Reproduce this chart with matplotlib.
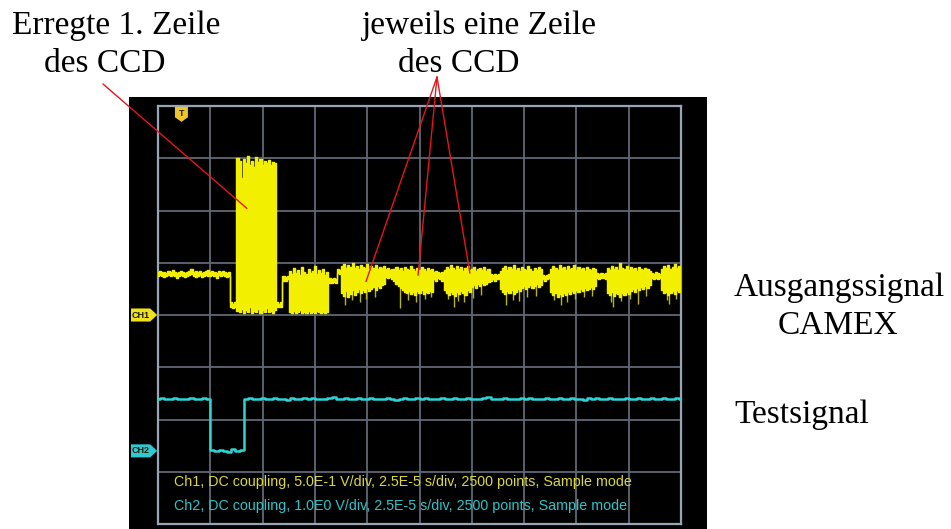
import numpy as np
import matplotlib
matplotlib.use("Agg")
import matplotlib.pyplot as plt
from matplotlib.patches import Rectangle, Polygon
from matplotlib import transforms

W, H = 951, 529

# Scope settings
t_div_us = 25.0          # 2.5E-5 s/div
ch1_v_per_div = 0.5      # 5.0E-1 V/div
ch2_v_per_div = 1.0      # 1.0E0 V/div
ch1_offset_div = 0.0
ch2_offset_div = -2.6
trigger_us = 11.2
ch1_dt_us = 1.0
ch2_dt_us = 2.0

# CH1 (CAMEX output), upper / lower envelope per 1 us, in volts
ch1_hi = [
    # idle level
    0.41, 0.42, 0.41, 0.41, 0.40, 0.42, 0.41, 0.43, 0.41, 0.40,
    0.41, 0.42, 0.41, 0.40, 0.41, 0.42, 0.44, 0.41, 0.42, 0.41,
    0.42, 0.40, 0.41, 0.42, 0.43, 0.41, 0.42, 0.41, 0.40, 0.42,
    0.41, 0.42, 0.41, 0.40, 0.41,
    0.12, 0.11, 0.12,
    # excited first row
    1.50, 1.47, 1.31, 1.49, 1.45, 1.52, 1.44, 1.47, 1.42, 1.51,
    1.46, 1.49, 1.44, 1.47, 1.45, 1.48, 1.44, 1.46, 1.45,
    0.12, 0.11, 0.12,
    0.37, 0.36, 0.37,
    0.42, 0.39, 0.45, 0.40, 0.43, 0.38, 0.46, 0.41, 0.39, 0.44,
    0.40, 0.42, 0.47, 0.39, 0.43, 0.40, 0.44, 0.38, 0.41,
    0.35, 0.34, 0.35, 0.34,
    0.44, 0.43,
    # following rows
    0.47, 0.49, 0.45, 0.48, 0.46, 0.50, 0.45, 0.47, 0.44, 0.48,
    0.46, 0.45, 0.49, 0.44, 0.47, 0.45, 0.48, 0.44, 0.46, 0.45, 0.47,
    0.44, 0.45, 0.43, 0.44,
    0.44, 0.46, 0.43, 0.45, 0.42, 0.46, 0.44, 0.43, 0.47, 0.44,
    0.42, 0.45, 0.43, 0.46, 0.44, 0.42, 0.45, 0.43, 0.44,
    0.41, 0.42, 0.41, 0.40, 0.41,
    0.43, 0.46, 0.44, 0.48, 0.45, 0.43, 0.47, 0.44, 0.46, 0.42,
    0.45, 0.47, 0.43, 0.44, 0.46, 0.42, 0.44, 0.45, 0.43, 0.46, 0.42, 0.44,
    0.39, 0.38, 0.39, 0.38, 0.39,
    0.42, 0.45, 0.47, 0.43, 0.46, 0.44, 0.48, 0.43, 0.45, 0.42,
    0.46, 0.44, 0.43, 0.47, 0.44, 0.42, 0.45, 0.43, 0.46, 0.44,
    0.38, 0.37, 0.38, 0.39,
    0.44, 0.47, 0.45, 0.43, 0.48, 0.45, 0.46, 0.43, 0.47, 0.44,
    0.45, 0.48, 0.43, 0.46, 0.44, 0.45, 0.42, 0.46, 0.44, 0.43, 0.45, 0.44,
    0.40, 0.39, 0.40, 0.39, 0.40,
    0.45, 0.43, 0.47, 0.44, 0.46, 0.43, 0.50, 0.45, 0.44, 0.47,
    0.43, 0.46, 0.44, 0.45, 0.42, 0.46, 0.44, 0.43, 0.45, 0.44, 0.42,
    0.40, 0.39, 0.41, 0.40, 0.39,
    0.44, 0.47, 0.45, 0.48, 0.44, 0.46, 0.49, 0.45, 0.47, 0.45,
]
ch1_lo = [
    0.37, 0.38, 0.37, 0.36, 0.37, 0.38, 0.37, 0.38, 0.37, 0.35,
    0.37, 0.38, 0.37, 0.36, 0.37, 0.38, 0.39, 0.37, 0.36, 0.37,
    0.38, 0.36, 0.37, 0.38, 0.37, 0.37, 0.38, 0.37, 0.35, 0.38,
    0.37, 0.38, 0.37, 0.36, 0.37,
    0.08, 0.07, 0.08,
    0.04, 0.03, 0.06, 0.02, 0.05, 0.03, 0.08, 0.02, 0.04, 0.03,
    0.06, 0.02, 0.05, 0.03, 0.07, 0.03, 0.04, 0.02, 0.05,
    0.08, 0.08, 0.08,
    0.33, 0.33, 0.34,
    0.03, 0.02, 0.04, 0.02, 0.03, 0.05, 0.02, 0.03, 0.02, 0.04,
    0.02, 0.03, 0.02, 0.04, 0.03, 0.02, 0.03, 0.02, 0.03,
    0.31, 0.31, 0.32, 0.31,
    0.40, 0.39,
    0.21, 0.18, 0.23, 0.17, 0.20, 0.24, 0.19, 0.22, 0.25, 0.21,
    0.24, 0.22, 0.26, 0.23, 0.25, 0.27, 0.24, 0.28, 0.26, 0.29, 0.30,
    0.36, 0.35, 0.36, 0.34,
    0.33, 0.30, 0.28, 0.26, 0.24, 0.22, 0.21, 0.23, 0.20, 0.22,
    0.19, 0.23, 0.21, 0.24, 0.20, 0.22, 0.21, 0.23, 0.22,
    0.34, 0.33, 0.35, 0.34, 0.33,
    0.24, 0.21, 0.19, 0.22, 0.20, 0.18, 0.22, 0.20, 0.23, 0.21,
    0.19, 0.24, 0.22, 0.27, 0.29, 0.26, 0.30, 0.28, 0.31, 0.29, 0.30, 0.32,
    0.33, 0.34, 0.33, 0.34, 0.34,
    0.25, 0.22, 0.20, 0.23, 0.21, 0.24, 0.20, 0.22, 0.25, 0.23,
    0.26, 0.28, 0.25, 0.27, 0.29, 0.26, 0.28, 0.30, 0.27, 0.29,
    0.34, 0.33, 0.34, 0.35,
    0.22, 0.19, 0.21, 0.17, 0.20, 0.18, 0.21, 0.19, 0.22, 0.20,
    0.23, 0.21, 0.24, 0.22, 0.25, 0.23, 0.26, 0.24, 0.25, 0.27, 0.25, 0.28,
    0.35, 0.34, 0.35, 0.35, 0.34,
    0.21, 0.19, 0.22, 0.18, 0.21, 0.20, 0.17, 0.21, 0.19, 0.22,
    0.20, 0.23, 0.25, 0.22, 0.26, 0.24, 0.27, 0.25, 0.28, 0.26, 0.29,
    0.35, 0.34, 0.35, 0.34, 0.35,
    0.24, 0.21, 0.22, 0.19, 0.21, 0.23, 0.20, 0.24, 0.22, 0.25,
]

# Sparse downward glitches inside the row readouts (time in us, volts)
ch1_dip_t = [89.5, 92.5, 96.5, 99.5, 103.5,
             115.5, 119.5, 123.5, 127.5, 130.5,
             138.5, 141.5, 143.5, 146.5, 150.5, 154.5,
             166.5, 169.5, 172.5, 176.5, 180.5,
             189.5, 192.5, 195.5, 199.5, 203.5, 207.5,
             216.5, 217.5, 221.5, 225.5, 229.5, 233.5,
             243.5, 244.5, 247.5]
ch1_dip_v = [0.10, 0.14, 0.12, 0.15, 0.17,
             0.07, 0.14, 0.12, 0.15, 0.17,
             0.15, 0.08, 0.13, 0.12, 0.16, 0.19,
             0.10, 0.14, 0.13, 0.17, 0.18,
             0.14, 0.10, 0.12, 0.15, 0.17, 0.18,
             0.12, 0.08, 0.13, 0.15, 0.11, 0.18,
             0.14, 0.11, 0.15]

# CH2 (test pulse), one value per 2 us, in volts
ch2_v = [
    1.00, 1.01, 0.99, 1.00, 1.01, 1.00, 0.99, 1.00, 1.01, 0.99, 1.00, 1.01, 0.99,
    0.01, -0.01, 0.02, 0.00, -0.02, 0.03, -0.01, 0.02,
    1.00, 1.01, 0.99, 1.00, 1.02, 1.00, 0.99, 1.01, 1.00, 1.00, 0.98, 1.01, 1.00, 0.99, 1.01,
    1.00, 1.02, 1.00, 0.99, 1.00, 1.01, 1.03, 0.99, 1.00, 1.01, 0.99, 1.00, 1.02, 1.00, 0.99,
    1.01, 1.00, 0.99, 1.00, 1.01, 1.00, 0.98, 1.00, 1.01, 1.00, 0.99, 1.02, 1.00, 1.01, 0.99,
    1.00, 1.00, 1.01, 0.99, 1.00, 1.02, 1.00, 0.99, 1.01, 1.00, 1.00, 0.99, 1.01, 1.03, 1.00,
    0.99, 1.00, 1.01, 1.00, 0.99, 1.00, 1.02, 1.00, 1.01, 0.99, 1.00, 1.00, 1.01, 0.99, 1.00,
    1.02, 1.00, 0.99, 1.01, 1.00, 1.00, 0.98, 1.01, 1.00, 1.02, 0.99, 1.00, 1.01, 1.00, 0.99,
    1.00, 1.01, 1.00, 0.99, 1.02, 1.00, 1.00, 1.01, 0.99, 1.00, 1.01, 1.00, 0.99, 1.01, 1.00,
]

info_ch1 = "Ch1, DC coupling, 5.0E-1 V/div, 2.5E-5 s/div, 2500 points, Sample mode"
info_ch2 = "Ch2, DC coupling, 1.0E0 V/div, 2.5E-5 s/div, 2500 points, Sample mode"

# Pointer targets on CH1 (time in us, volts)
first_row_target = (42.5, 1.02)
row_targets = [(99.4, 0.32), (124.3, 0.38), (149.1, 0.40)]

YELLOW = "#f2f000"
YELLOW_DIM = "#b9b41c"
CYAN = "#2ed3d6"
RED = "#e8141c"
SANS = ["Liberation Sans", "DejaVu Sans"]
SERIF = ["Liberation Serif", "DejaVu Serif"]

assert len(ch1_hi) == len(ch1_lo)

fig = plt.figure(figsize=(W / 100, H / 100), dpi=100)
fig.patch.set_facecolor("white")


def fx(px):
    return px / W


def fy(py):
    return 1 - py / H


# black screen of the scope
fig.add_artist(Rectangle((fx(129), 0), fx(707) - fx(129), 1 - (97 / H),
                         transform=fig.transFigure, facecolor="black",
                         edgecolor="none", zorder=0))

ax = fig.add_axes([fx(158), fy(524), (681 - 158) / W, (524 - 106) / H])
ax.set_facecolor("black")
ax.set_xlim(0, 10 * t_div_us)
ax.set_ylim(-4, 4)
ax.set_xticks(np.arange(0, 10 * t_div_us + 1, t_div_us))
ax.set_yticks(np.arange(-4, 5, 1))
ax.tick_params(length=0, labelbottom=False, labelleft=False)
ax.grid(True, color="#5f6975", lw=1.3, zorder=1)
ax.set_axisbelow(True)
for sp in ax.spines.values():
    sp.set_color("#97a5b7")
    sp.set_linewidth(1.6)

# CH1 trace
t1 = np.arange(len(ch1_hi)) * ch1_dt_us
hi = np.array(ch1_hi) / ch1_v_per_div + ch1_offset_div
lo = np.array(ch1_lo) / ch1_v_per_div + ch1_offset_div
ax.fill_between(t1, lo, hi, step="mid", color=YELLOW, lw=0, zorder=3)
ax.plot(t1, hi, drawstyle="steps-mid", color=YELLOW, lw=1.0, zorder=3)
ax.plot(t1, lo, drawstyle="steps-mid", color=YELLOW, lw=1.0, zorder=3)
dip_idx = np.clip(np.round(np.array(ch1_dip_t) / ch1_dt_us).astype(int), 0, len(lo) - 1)
ax.vlines(ch1_dip_t, np.array(ch1_dip_v) / ch1_v_per_div + ch1_offset_div,
          lo[dip_idx], color=YELLOW_DIM, lw=1.0, zorder=2.9)

# CH2 trace
t2 = np.arange(len(ch2_v)) * ch2_dt_us
ax.plot(t2, np.array(ch2_v) / ch2_v_per_div + ch2_offset_div,
        drawstyle="steps-mid", color=CYAN, lw=1.8, zorder=3)

# channel ground tags on the left edge
ty = transforms.blended_transform_factory(ax.transAxes, ax.transData)
for name, off, col in [("CH1", ch1_offset_div, "#efe21c"), ("CH2", ch2_offset_div, "#2fc9d2")]:
    x0, x1, x2, hh = -0.0516, -0.0150, -0.0015, 0.125
    ax.add_patch(Polygon([(x0, off - hh), (x1, off - hh), (x2, off),
                          (x1, off + hh), (x0, off + hh)], closed=True,
                         transform=ty, facecolor=col, edgecolor="none",
                         clip_on=False, zorder=5))
    ax.text((x0 + x1) / 2 + 0.001, off, name, transform=ty, ha="center", va="center",
            fontsize=6.5, fontweight="bold", color="#1a1a00", family=SANS,
            clip_on=False, zorder=6)

# trigger position tag at the top
tx = transforms.blended_transform_factory(ax.transData, ax.transAxes)
half = 3.1
ax.add_patch(Polygon([(trigger_us - half, 0.998), (trigger_us + half, 0.998),
                      (trigger_us + half, 0.973), (trigger_us, 0.962),
                      (trigger_us - half, 0.973)], closed=True, transform=tx,
                     facecolor="#ecc62a", edgecolor="none", clip_on=False, zorder=5))
ax.text(trigger_us, 0.981, "T", transform=tx, ha="center", va="center",
        fontsize=6.5, fontweight="bold", color="#2a2000", family=SANS, zorder=6)

# scope status lines
fig.text(fx(174), fy(482), info_ch1, color="#dcd83a", fontsize=10.3, family=SANS,
         va="center", ha="left", zorder=7)
fig.text(fx(174), fy(506), info_ch2, color="#2ec4c8", fontsize=10.3, family=SANS,
         va="center", ha="left", zorder=7)

# labels around the screen
lab = dict(fontsize=24, family=SERIF, color="black", va="baseline", ha="center")
fig.text(fx(116), fy(34), "Erregte 1. Zeile", **lab)
fig.text(fx(105), fy(72), "des CCD", **lab)
fig.text(fx(479), fy(34), "jeweils eine Zeile", **lab)
fig.text(fx(459), fy(72), "des CCD", **lab)
fig.text(fx(839), fy(296), "Ausgangssignal", **lab)
fig.text(fx(838), fy(334), "CAMEX", **lab)
fig.text(fx(802), fy(423), "Testsignal", **lab)

# pointer lines
def ch1_point(p):
    return (p[0], p[1] / ch1_v_per_div + ch1_offset_div)


line = dict(arrowstyle="-", color=RED, lw=1.0, shrinkA=0, shrinkB=0)
ax.annotate("", xy=ch1_point(first_row_target), xycoords="data",
            xytext=(103, H - 84), textcoords="figure pixels",
            arrowprops=line, annotation_clip=False, zorder=8)
for p in row_targets:
    ax.annotate("", xy=ch1_point(p), xycoords="data",
                xytext=(437, H - 77), textcoords="figure pixels",
                arrowprops=line, annotation_clip=False, zorder=8)

fig.savefig("out.png", dpi=100)
